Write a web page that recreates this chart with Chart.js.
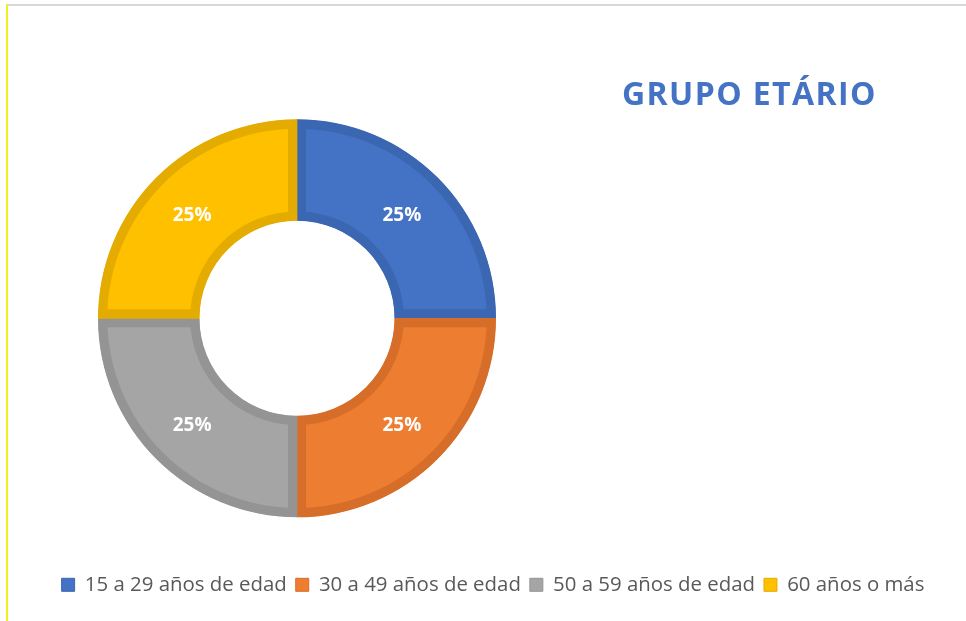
<!DOCTYPE html>
<html>
<head>
<meta charset="utf-8">
<title>Grupo etário</title>
<script src="https://cdn.jsdelivr.net/npm/chart.js@4.4.1/dist/chart.umd.min.js"></script>
<style>
  html, body { margin: 0; padding: 0; background: #fff; }
  #frame { position: relative; width: 966px; height: 621px; overflow: hidden; }
  #topLine { position: absolute; left: 8px; top: 4px; width: 958px; height: 2px; background: #d9d9d9; }
  #leftLine { position: absolute; left: 6px; top: 4px; width: 2px; height: 617px; background: #f0f01e; }
  #chartBox { position: absolute; left: 0; top: 0; width: 966px; height: 621px; }
</style>
</head>
<body>
<div id="frame">
  <div id="chartBox"><canvas id="ageChart"></canvas></div>
  <div id="topLine"></div>
  <div id="leftLine"></div>
</div>
<script>
const categories = ['15 a 29 años de edad', '30 a 49 años de edad', '50 a 59 años de edad', '60 años o más'];
const shares = [25, 25, 25, 25];
const fillColors = ['#4472C4', '#ED7D31', '#A5A5A5', '#FFC000'];
const edgeColors = ['#3B66B2', '#D66E2A', '#949494', '#E4AC00'];
const chartTitle = 'GRUPO ETÁRIO';

Chart.defaults.font.family = '"Open Sans", sans-serif';

// percentages in the middle of each ring slice
const sliceLabels = {
    id: 'sliceLabels',
    afterDatasetsDraw(chart) {
        const ctx = chart.ctx;
        const meta = chart.getDatasetMeta(0);
        const total = shares.reduce((a, b) => a + b, 0);
        ctx.save();
        ctx.fillStyle = '#ffffff';
        ctx.font = 'bold 19px "Open Sans"';
        ctx.textAlign = 'center';
        ctx.textBaseline = 'middle';
        meta.data.forEach((arc, i) => {
            const p = arc.tooltipPosition();
            ctx.fillText(Math.round(shares[i] / total * 100) + '%', p.x, p.y + 2);
        });
        ctx.restore();
    }
};

// title sits in the empty space right of the ring
const sideTitle = {
    id: 'sideTitle',
    afterDraw(chart) {
        const ctx = chart.ctx;
        ctx.save();
        ctx.fillStyle = '#4472C4';
        ctx.font = 'bold 32px "Open Sans"';
        ctx.letterSpacing = '1.4px';
        ctx.textAlign = 'left';
        ctx.textBaseline = 'middle';
        ctx.fillText(chartTitle, 622, 96);
        ctx.restore();
    }
};

const ctx = document.getElementById('ageChart').getContext('2d');
new Chart(ctx, {
    type: 'doughnut',
    data: {
        labels: categories,
        datasets: [{
            data: shares,
            backgroundColor: fillColors,
            borderColor: edgeColors,
            borderWidth: 9,
            borderAlign: 'inner'
        }]
    },
    options: {
        responsive: true,
        maintainAspectRatio: false,
        animation: false,
        radius: 199,
        cutout: '49%',
        layout: { padding: { left: 20, top: 71, bottom: 16 } },
        plugins: {
            // empty title on the right only reserves room so the ring sits left
            title: {
                display: true,
                position: 'right',
                text: '',
                font: { size: 10, lineHeight: 1 },
                padding: { top: 0, bottom: 382 }
            },
            legend: {
                position: 'bottom',
                labels: {
                    color: '#595959',
                    font: { size: 20.4 },
                    boxWidth: 13,
                    boxHeight: 13,
                    padding: 9,
                    generateLabels: function(chart) {
                        return categories.map((c, i) => ({
                            text: c,
                            fillStyle: fillColors[i],
                            strokeStyle: edgeColors[i],
                            lineWidth: 1,
                            fontColor: '#595959',
                            index: i,
                            hidden: false
                        }));
                    }
                }
            },
            tooltip: { enabled: false }
        }
    },
    plugins: [sliceLabels, sideTitle]
});
</script>
</body>
</html>
